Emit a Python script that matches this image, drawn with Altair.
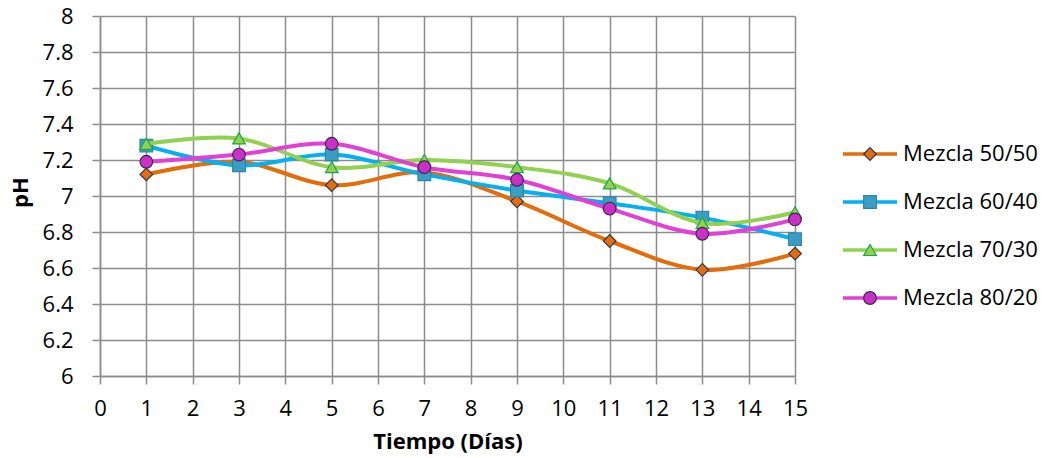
import altair as alt
import pandas as pd

days = [1, 3, 5, 7, 9, 11, 13, 15]
series_names = ["Mezcla 50/50", "Mezcla 60/40", "Mezcla 70/30", "Mezcla 80/20"]
ph_50_50 = [7.12, 7.19, 7.06, 7.13, 6.97, 6.75, 6.59, 6.68]
ph_60_40 = [7.28, 7.17, 7.23, 7.12, 7.03, 6.96, 6.88, 6.76]
ph_70_30 = [7.29, 7.32, 7.16, 7.20, 7.16, 7.07, 6.85, 6.91]
ph_80_20 = [7.19, 7.23, 7.29, 7.16, 7.09, 6.93, 6.79, 6.87]
y_ticks = [6, 6.2, 6.4, 6.6, 6.8, 7, 7.2, 7.4, 7.6, 7.8, 8]
x_ticks = list(range(0, 16))

line_colors = ["#E46C0A", "#00B0F0", "#92D050", "#E040D6"]
fill_colors = ["#E46C0A", "#3A9EC2", "#92D050", "#CC2EC8"]
stroke_colors = ["#2B3A55", "#2C86A6", "#1AA64A", "#3A2A4A"]
shapes = ["diamond", "square", "triangle-up", "circle"]

values = [ph_50_50, ph_60_40, ph_70_30, ph_80_20]
rows = []
for name, vals in zip(series_names, values):
    for d, v in zip(days, vals):
        rows.append({"series": name, "day": d, "ph": v})
df = pd.DataFrame(rows)
legend_df = pd.DataFrame({"series": series_names})

FONT = "Open Sans"
GRID = "#8C8C8C"

color_scale = alt.Scale(domain=series_names, range=line_colors)
fill_scale = alt.Scale(domain=series_names, range=fill_colors)
stroke_scale = alt.Scale(domain=series_names, range=stroke_colors)
shape_scale = alt.Scale(domain=series_names, range=shapes)

x_axis = alt.Axis(
    values=x_ticks,
    title="Tiempo (Días)",
    titleFont=FONT, titleFontSize=22, titleFontWeight="bold", titleColor="#000000",
    titleBaseline="top", titleY=55,
    labelFont=FONT, labelFontSize=22, labelColor="#000000", labelPadding=14,
    labelOverlap=False,
    tickSize=8, tickColor=GRID, tickWidth=1.5, domainColor=GRID, domainWidth=1.5,
    gridColor=GRID, gridWidth=1.5, grid=True, labelFlush=False,
)
y_axis = alt.Axis(
    values=y_ticks,
    format="~g",
    title="pH",
    titleFont=FONT, titleFontSize=22, titleFontWeight="bold", titleColor="#000000",
    titleX=-80, titleY=176, titleBaseline="middle", titleAngle=270,
    labelFont=FONT, labelFontSize=22, labelColor="#000000", labelPadding=19,
    labelOverlap=False, labelSeparation=0,
    tickSize=8, tickColor=GRID, tickWidth=1.5, domainColor=GRID, domainWidth=1.5,
    gridColor=GRID, gridWidth=1.5, grid=True, labelFlush=False,
)
x_scale = alt.Scale(domain=[0, 15], nice=False, zero=False)
y_scale = alt.Scale(domain=[6, 8], nice=False, zero=False)

layers = []
for i, name in enumerate(series_names):
    base = alt.Chart(df).transform_filter(alt.datum.series == name)
    line = base.mark_line(interpolate="cardinal", strokeWidth=4).encode(
        x=alt.X("day:Q", scale=x_scale, axis=x_axis),
        y=alt.Y("ph:Q", scale=y_scale, axis=y_axis),
        color=alt.Color("series:N", scale=color_scale, legend=None),
    )
    pts = base.mark_point(filled=True, size=160, strokeWidth=1.2, opacity=1).encode(
        x=alt.X("day:Q", scale=x_scale, axis=x_axis),
        y=alt.Y("ph:Q", scale=y_scale, axis=y_axis),
        fill=alt.Fill("series:N", scale=fill_scale, legend=None),
        stroke=alt.Stroke("series:N", scale=stroke_scale, legend=None),
        shape=alt.Shape("series:N", scale=shape_scale, legend=None),
    )
    layers += [line, pts]

main = alt.layer(*layers)

ly = alt.Y("series:N", scale=alt.Scale(type="point", domain=series_names, range=[138, 282], padding=0), axis=None)
leg_line = alt.Chart(legend_df).mark_rule(strokeWidth=3.5).encode(
    x=alt.value(743), x2=alt.value(797), y=ly,
    color=alt.Color("series:N", scale=color_scale, legend=None),
)
leg_pt = alt.Chart(legend_df).mark_point(filled=True, size=160, strokeWidth=1.2, opacity=1).encode(
    x=alt.value(770), y=ly,
    fill=alt.Fill("series:N", scale=fill_scale, legend=None),
    stroke=alt.Stroke("series:N", scale=stroke_scale, legend=None),
    shape=alt.Shape("series:N", scale=shape_scale, legend=None),
)
leg_txt = alt.Chart(legend_df).mark_text(align="left", baseline="middle", font=FONT, fontSize=22, color="#000000").encode(
    x=alt.value(803), y=ly, text="series:N",
)
legend = alt.layer(leg_line, leg_pt, leg_txt)

chart = alt.layer(main, legend).resolve_scale(y="independent").properties(
    width=695, height=360,
    autosize=alt.AutoSizeParams(type="none"),
    padding={"left": 100, "top": 16, "right": 259, "bottom": 82},
    background="#FFFFFF",
).configure_view(stroke=None).configure_axis(labelOverlap=False).configure_axisY(labelOverlap=False)

chart.save("out.html", embed_options={"renderer": "svg", "actions": False})
